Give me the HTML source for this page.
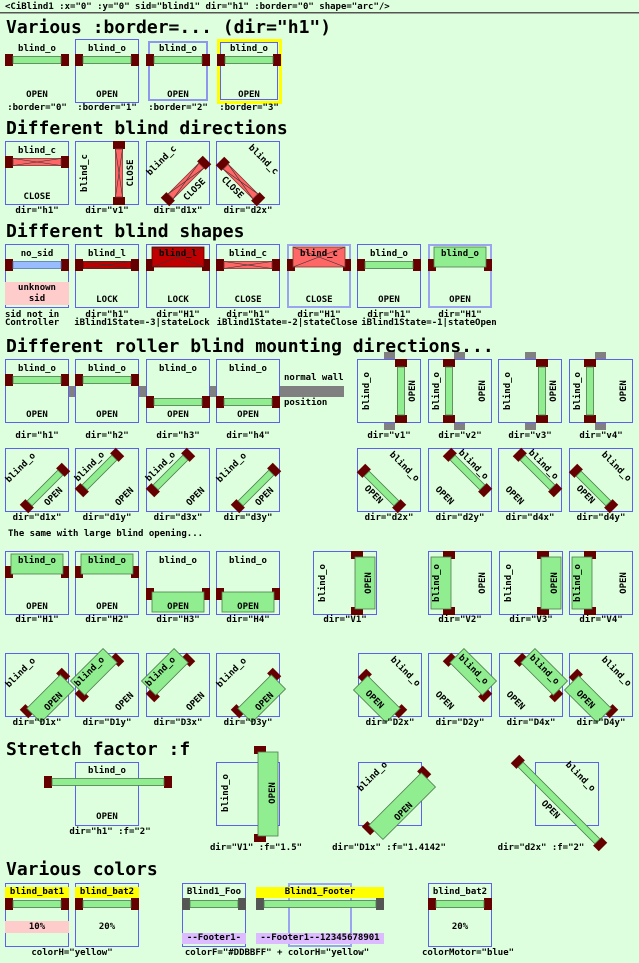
<!DOCTYPE html><html><head><meta charset="utf-8"><style>body{margin:0;background:#ddffdd}svg{display:block}text{font-family:"DejaVu Sans Mono","Liberation Mono",monospace;font-weight:bold;fill:#000}</style></head><body>
<svg id="s" width="639" height="963" xmlns="http://www.w3.org/2000/svg">
<rect x="0" y="0" width="639" height="963" fill="#ddffdd"/>
<text x="5" y="7" font-size="9" dominant-baseline="central">&lt;CiBlind1 :x="0" :y="0" sid="blind1" dir="h1" :border="0" shape="arc"/&gt;</text>
<rect x="0" y="12" width="639" height="1.5" fill="#555"/>
<text x="6" y="33" font-size="18">Various :border=... (dir="h1")</text>
<text x="6" y="134" font-size="18">Different blind directions</text>
<text x="6" y="237" font-size="18">Different blind shapes</text>
<text x="6" y="352" font-size="18">Different roller blind mounting directions...</text>
<text x="8" y="534" font-size="9" dominant-baseline="central">The same with large blind opening...</text>
<text x="6" y="755" font-size="18">Stretch factor :f</text>
<text x="6" y="875" font-size="18">Various colors</text>
</svg>
<script>
const NS='http://www.w3.org/2000/svg',S=document.getElementById('s');
function E(t,a,p,tx){const e=document.createElementNS(NS,t);for(const k in a)e.setAttribute(k,a[k]);if(tx!=null)e.textContent=tx;(p||S).appendChild(e);return e;}
function T(x,y,s,o){o=o||{};return E('text',{x:0,y:0,'text-anchor':o.anchor||'middle','dominant-baseline':'central','font-size':o.size||9,transform:'translate('+x+','+y+') rotate('+(o.rot||0)+')'},o.p,s);}
function R(x,y,w,h,f,st,sw,p){return E('rect',{x:x,y:y,width:w,height:h,fill:f||'none',stroke:st||'none','stroke-width':sw||0},p);}
function box(x,y,k){if(k==='none')return;if(k==='l'){R(x+1,y+1,62,62,null,'#9aa4f0',2);return;}R(x+0.5,y+0.5,63,63,null,'#5f5ff5',1);}
function blind(bx,by,x1,y1,x2,y2,o){o=o||{};const dx=x2-x1,dy=y2-y1,len=Math.hypot(dx,dy),a=Math.atan2(dy,dx);
const nx=-Math.sin(a),ny=Math.cos(a);const mx=(x1+x2)/2-32,my=(y1+y2)/2-32;const s=(mx*nx+my*ny)<0?-1:1;
const g=E('g',{transform:'translate('+(bx+x1)+','+(by+y1)+') rotate('+(a*180/Math.PI)+')'});
const cap=o.cap||'#660000';R(0,-6,8,12,cap,null,0,g);R(len-8,-6,8,12,cap,null,0,g);
const fill=o.fill||'#90ee90',st=o.stroke||'#4d7a4d';let y0,h,x0,xe;
if(o.large){h=20;y0=s*8-10;x0=6;xe=len-6;}else{h=7;y0=-3.5;x0=8;xe=len-8;}
R(x0,y0,xe-x0,h,fill,st,0.8,g);
if(o.cross){E('line',{x1:x0,y1:y0,x2:xe,y2:y0+h,stroke:'#333','stroke-width':0.6},g);E('line',{x1:x0,y1:y0+h,x2:xe,y2:y0,stroke:'#333','stroke-width':0.6},g);}
}
const G={h1:[0,21,64,21,32,10,0,32,56,0],h3:[0,43,64,43,32,10,0,32,56,0],
v1:[44,0,44,64,10,32,-90,56,32,-90],v2:[21,0,21,64,9,32,-90,55,32,-90],
d1x:[19,61,61,19,16,20,-45,49,49,-45],d1y:[4,45,45,4,15,19,-45,50,49,-45],
d2x:[4,20,45,61,47,19,45,16,47,45],d2y:[19,4,60,45,45,17,45,16,48,45]};
G.h2=G.h1;G.h4=G.h3;G.v3=G.v1;G.v4=G.v2;G.d3x=G.d1y;G.d3y=G.d1x;G.d4x=G.d2y;G.d4y=G.d2x;
function item(bx,by,dir,label,state,o){o=o||{};const d=dir.toLowerCase(),g=G[d];const large=dir!==d;
box(bx,by,o.box||'n');blind(bx,by,g[0],g[1],g[2],g[3],{large:large,fill:o.fill,stroke:o.stroke,cross:o.cross,cap:o.cap});
T(bx+g[4],by+g[5],label,{rot:g[6]});T(bx+g[7],by+g[8],state,{rot:g[9]});
if(o.cap_y)T(bx+32,o.cap_y,o.caption||('dir="'+dir+'"'));}
// Row 1
item(5,39,'h1','blind_o','OPEN',{box:'none',cap_y:108,caption:':border="0"'});
item(75,39,'h1','blind_o','OPEN',{cap_y:108,caption:':border="1"'});
R(149,42,58,58,null,'#8f96ee',2);blind(146,39,0,21,64,21);T(178,49,'blind_o');T(178,95,'OPEN');T(178,108,':border="2"');
R(218.5,40.5,62,62,null,'#ffff00',3);R(220.5,42.5,57,57,null,'#5f5ff5',1);blind(217,39,0,21,64,21);T(249,49,'blind_o');T(249,95,'OPEN');T(249,108,':border="3"');
// Row 2
const RED={fill:'#ff6666',stroke:'#883333',cross:true};
[['h1',5],['v1',75],['d1x',146],['d2x',216]].forEach(function(a){item(a[1],141,a[0],'blind_c','CLOSE',Object.assign({cap_y:211},RED));});
// Row 3 shapes
box(5,244);blind(5,244,0,21,64,21,{fill:'#99bbff',stroke:'#5577aa'});T(37,254,'no_sid');
R(5,282,64,23,'#ffcccc');T(37,288,'unknown');T(37,299,'sid');
T(5,315,'sid not in',{anchor:'start'});T(5,323,'Controller',{anchor:'start'});
const DR={fill:'#c00000',stroke:'#550000',cross:true};
item(75,244,'h1','blind_l','LOCK',DR);
item(146,244,'H1','blind_l','LOCK',DR);
item(216,244,'h1','blind_c','CLOSE',RED);
item(287,244,'H1','blind_c','CLOSE',Object.assign({box:'l'},RED));
item(357,244,'h1','blind_o','OPEN');
item(428,244,'H1','blind_o','OPEN',{box:'l'});
[['h1',107],['H1',178],['h1',248],['H1',319],['h1',389],['H1',460]].forEach(function(a){T(a[1],315,'dir="'+a[0]+'"');});
T(142,323,'iBlind1State=-3|stateLock');T(287,323,'iBlind1State=-2|stateClose');T(429,323,'iBlind1State=-1|stateOpen');
// Row 4 walls
const GR='#808080';
R(69,386,6,11,GR);R(139,386,7,11,GR);R(210,386,6,11,GR);R(280,386,64,11,GR);
[[384,357],[454,428],[525,498],[595,569]].forEach(function(a){R(a[0],352,11,7,GR);R(a[0],423,11,7,GR);});
T(284,378,'normal wall',{anchor:'start'});T(284,403,'position',{anchor:'start'});
[['h1',5],['h2',75],['h3',146],['h4',216],['v1',357],['v2',428],['v3',498],['v4',569]].forEach(function(a){item(a[1],359,a[0],'blind_o','OPEN',{cap_y:436});});
// Row 5
[['d1x',5],['d1y',75],['d3x',146],['d3y',216],['d2x',357],['d2y',428],['d4x',498],['d4y',569]].forEach(function(a){item(a[1],448,a[0],'blind_o','OPEN',{cap_y:518});});
// Row 6
[['H1',5],['H2',75],['H3',146],['H4',216],['V1',313],['V2',428],['V3',499],['V4',569]].forEach(function(a){item(a[1],551,a[0],'blind_o','OPEN',{cap_y:620});});
// Row 7
[['D1x',5],['D1y',75],['D3x',146],['D3y',216],['D2x',358],['D2y',428],['D4x',499],['D4y',569]].forEach(function(a){item(a[1],653,a[0],'blind_o','OPEN',{cap_y:723});});
// Stretch
box(75,762);blind(75,762,-31,20,97,20);T(107,771,'blind_o');T(107,817,'OPEN');T(110,832,'dir="h1" :f="2"');
box(216,762);blind(216,762,44,-16,44,80,{large:true});T(226,793,'blind_o',{rot:-90});T(273,793,'OPEN',{rot:-90});T(256,848,'dir="V1" :f="1.5"');
box(358,762);blind(358,762,8,69,69,8,{large:true});T(373,777,'blind_o',{rot:-45});T(404,812,'OPEN',{rot:-45});T(389,848,'dir="D1x" :f="1.4142"');
box(535,762);blind(535,762,-20,-3,68,85);T(580,777,'blind_o',{rot:45});T(550,810,'OPEN',{rot:45});T(541,848,'dir="d2x" :f="2"');
// Colors
const YY='#ffff00',LV='#ddbbff';
box(5,883);R(5,887,64,11,YY);blind(5,883,0,21,64,21);T(37,892,'blind_bat1');R(5,921,64,12,'#ffcccc');T(37,927,'10%');
box(75,883);R(75,887,64,11,YY);blind(75,883,0,21,64,21);T(107,892,'blind_bat2');T(107,927,'20%');
T(72,953,'colorH="yellow"');
box(182,883);blind(182,883,0,21,64,21,{cap:'#555555'});T(214,892,'Blind1_Foo');R(182,933,64,11,LV);T(214,938,'--Footer1-');
box(288,883,'l');R(256,887,128,11,YY);blind(288,883,-32,21,96,21,{cap:'#555555'});T(320,892,'Blind1_Footer');R(256,933,128,11,LV);T(320,938,'--Footer1--12345678901');
T(277,953,'colorF="#DDBBFF" + colorH="yellow"');
box(428,883);blind(428,883,0,21,64,21);T(460,892,'blind_bat2');T(460,927,'20%');
T(468,953,'colorMotor="blue"');
</script>
</body></html>
